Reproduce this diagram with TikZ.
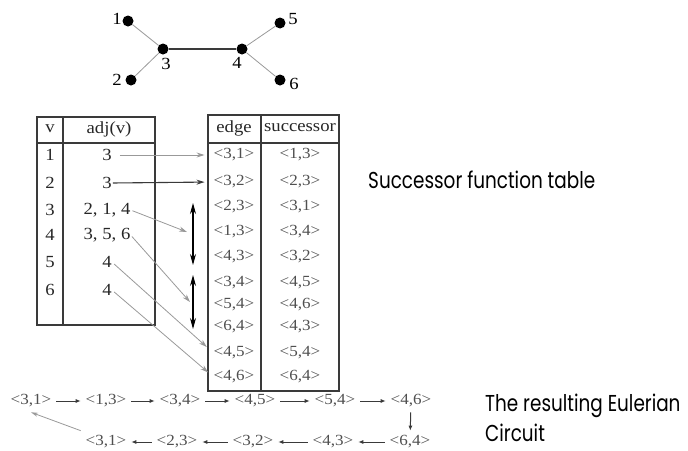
\documentclass[tikz,border=0pt]{standalone}
\usepackage{fontspec}
\setmainfont{Liberation Serif}[FakeStretch=1.1]
\newfontfamily\labelfont{Poppins}[FakeStretch=0.8]
\usetikzlibrary{arrows.meta, calc}
\definecolor{eGray}{HTML}{999999}
\definecolor{eDark}{HTML}{3A3A3A}
\definecolor{eText}{HTML}{505050}

\begin{document}
\begin{tikzpicture}[x=1pt, y=-1pt,
  vert/.style={circle, fill=black, inner sep=0pt, minimum size=11pt},
  vlab/.style={font=\fontsize{17}{17}\selectfont, inner sep=0pt},
  cell/.style={font=\fontsize{17}{17}\selectfont, text=black!85, inner sep=0pt},
  pair/.style={font=\fontsize{15.5}{15.5}\selectfont, text=eText, inner sep=0pt},
  walk/.style={pair, outer sep=5pt},
  note/.style={font=\labelfont\fontsize{23}{30}\selectfont, anchor=west, align=left, inner sep=0pt},
  light/.style={draw=eGray, line width=0.8pt},
  heavy/.style={draw=eDark, line width=1.1pt},
  grid/.style={draw=eDark, line width=1.2pt},
  ptr/.style={-{Stealth[length=8pt, width=5pt]}},
  swap/.style={{Stealth[length=11pt, width=6pt]}-{Stealth[length=11pt, width=6pt]}, draw=black, line width=1.1pt},
  flow/.style={-{Latex[length=5pt, width=4pt]}, draw=eDark, line width=1pt},
]
  \useasboundingbox (0,0) rectangle (688,450);

  \node[vert] (g1) at (128,21) {};
  \node[vert] (g2) at (131,80) {};
  \node[vert] (g3) at (163,49) {};
  \node[vert] (g4) at (242,49) {};
  \node[vert] (g5) at (280,23) {};
  \node[vert] (g6) at (280,80) {};
  \node[vlab] at (117,19) {1};
  \node[vlab] at (117,80) {2};
  \node[vlab] at (166,64) {3};
  \node[vlab] at (237,63) {4};
  \node[vlab] at (293,19) {5};
  \node[vlab] at (294,84) {6};
  \draw[light] (g1) -- (g3);
  \draw[light] (g2) -- (g3);
  \draw[heavy] (g3) -- (g4);
  \draw[light] (g4) -- (g5);
  \draw[light] (g4) -- (g6);

  \draw[grid] (37,117) rectangle (155,325);
  \draw[grid] (63,117) -- (63,325);
  \draw[grid] (37,143) -- (155,143);
  \node[cell] at (50,129) {v};
  \node[cell] at (109,129) {adj(v)};
  \foreach \v/\y in {1/155, 2/183, 3/210, 4/235, 5/262, 6/290}
    \node[cell] (v\v) at (50,\y) {\v};
  \node[cell] (a1) at (107,155) {3};
  \node[cell] (a2) at (107,183) {3};
  \node[cell] (a3) at (107,210) {2, 1, 4};
  \node[cell] (a4) at (107,235) {3, 5, 6};
  \node[cell] (a5) at (107,262) {4};
  \node[cell] (a6) at (107,290) {4};

  \draw[grid] (208,115) rectangle (339,391);
  \draw[grid] (261,115) -- (261,391);
  \draw[grid] (208,143) -- (339,143);
  \node[cell] at (234,128) {edge};
  \node[cell] at (300,128) {successor};
  \foreach \i/\e/\s/\y in {1/{3,1}/{1,3}/155, 2/{3,2}/{2,3}/182, 3/{2,3}/{3,1}/207,
      4/{1,3}/{3,4}/232, 5/{4,3}/{3,2}/257, 6/{3,4}/{4,5}/283, 7/{5,4}/{4,6}/305,
      8/{6,4}/{4,3}/327, 9/{4,5}/{5,4}/353, 10/{4,6}/{6,4}/377} {
    \node[pair] (e\i) at (234,\y) {<\e>};
    \node[pair] (s\i) at (300,\y) {<\s>};
  }

  \coordinate (d1a) at (193,203);
  \coordinate (d1b) at (193,265);
  \coordinate (d2a) at (193,275);
  \coordinate (d2b) at (193,329);
  \coordinate (h3) at (187,232);
  \coordinate (h4) at (190,302);
  \draw[swap] (d1a) -- (d1b);
  \draw[swap] (d2a) -- (d2b);

  \draw[light, ptr, shorten <=8pt, shorten >=9pt] (a1.east) -- (e1.west);
  \draw[heavy, ptr, shorten <=1pt, shorten >=9pt] (a2.east) -- (e2.west);
  \draw[light, ptr, shorten <=2pt] (a3.east) -- (h3);
  \draw[light, ptr, shorten <=2pt] (a4.east) -- (h4);
  \draw[light, ptr, shorten <=3pt, shorten >=9pt] (a5.east) -- (e9.west);
  \draw[light, ptr, shorten <=3pt, shorten >=7pt] (a6.east) -- (e10.west);

  \node[walk] (b1) at (31,401) {<3,1>};
  \node[walk] (b2) at (106,401) {<1,3>};
  \node[walk] (b3) at (180,401) {<3,4>};
  \node[walk] (b4) at (255,401) {<4,5>};
  \node[walk] (b5) at (335,401) {<5,4>};
  \node[walk] (b6) at (411,401) {<4,6>};
  \node[walk] (b7) at (410,442) {<6,4>};
  \node[walk] (b8) at (333,442) {<4,3>};
  \node[walk] (b9) at (253,442) {<3,2>};
  \node[walk] (b10) at (177,442) {<2,3>};
  \node[walk] (b11) at (106,442) {<3,1>};
  \foreach \p/\q in {b1/b2, b2/b3, b3/b4, b4/b5, b5/b6, b6/b7, b7/b8, b8/b9, b9/b10, b10/b11}
    \draw[flow] (\p) -- (\q);
  \draw[light, -{Stealth[length=7pt, width=4pt]}] (b11.north west) -- (b1.south);

  \node[note] (succ) at (368,180) {Successor function table};
  \node[note] (euler) at (485,418) {The resulting Eulerian\\Circuit};
\end{tikzpicture}
\end{document}
